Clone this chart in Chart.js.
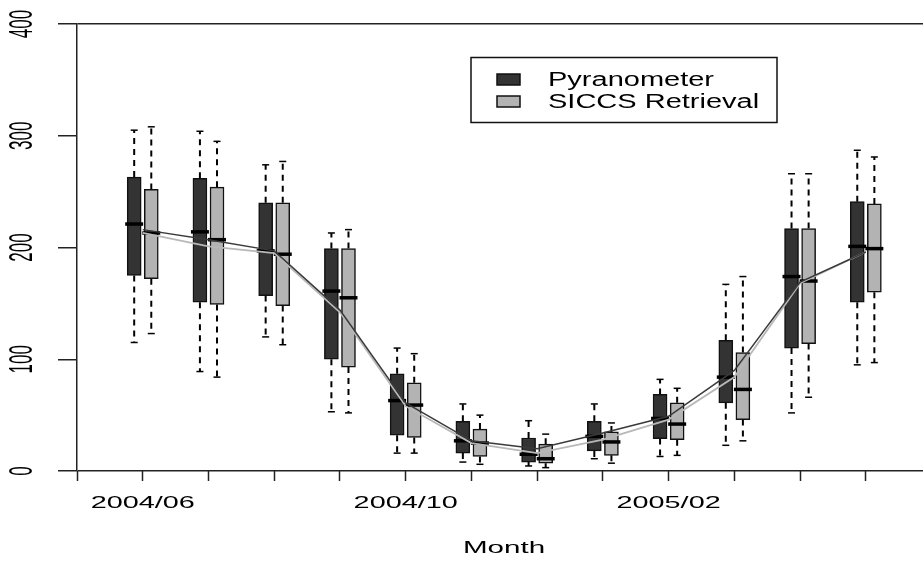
<!DOCTYPE html>
<html>
<head>
<meta charset="utf-8">
<script src="https://cdn.jsdelivr.net/npm/chart.js@4/dist/chart.umd.min.js"></script>
<style>
  body { margin: 0; background: #fff; }
  #wrap { width: 923px; height: 561px; }
</style>
</head>
<body>
<div id="wrap"><canvas id="boxes"></canvas></div>
<script>
// monthly irradiance
var months = ["2004/06", "2004/07", "2004/08", "2004/09", "2004/10", "2004/11", "2004/12", "2005/01", "2005/02", "2005/03", "2005/04", "2005/05"];
var yTicks = [0, 100, 200, 300, 400];

var pyrMin = [115, 89, 120, 53, 16, 8, 4.5, 11, 13, 23, 52, 95];
var pyrQ1 = [175, 151, 157, 100, 32, 16, 8, 18, 29, 61, 110, 151];
var pyrMedian = [221, 214, 197, 161, 63, 27, 15, 31, 47, 84, 174, 201];
var pyrQ3 = [263, 262, 240, 199, 87, 44.5, 29.5, 44.5, 68.5, 117, 217, 241];
var pyrMax = [305, 304, 274, 213, 110, 60, 45, 60, 82, 167, 266, 287];
var pyrMean = [216, 207, 197, 144, 61, 27, 20, 34, 49, 90, 169, 196];

var sicMin = [123, 84, 113, 52, 16, 6, 3, 7, 14, 27, 66, 97];
var sicQ1 = [172, 149, 148, 93, 30, 13, 7, 14, 28, 46, 114, 160];
var sicMedian = [213, 207, 194, 155, 59, 25, 11, 26, 42, 73, 170, 199];
var sicQ3 = [252, 254, 240, 199, 79, 37.5, 24, 35, 61, 106, 217, 239];
var sicMax = [308, 295, 277, 216, 105, 50, 33, 43, 74, 174, 266, 281];
var sicMean = [213, 201, 195, 142, 58, 25, 16, 28, 46, 84, 168, 196];

var OFFSET = 0.13;
var FONT = "'Liberation Sans', Arial, Helvetica, sans-serif";
var DARK = "#333333";
var LIGHT = "#b3b3b3";

function boxData(q1, q3, shift) {
	return months.map(function(m, i) { return { x: i + shift, y: [q1[i], q3[i]] }; });
}
function pointData(vals, shift) {
	return months.map(function(m, i) { return { x: i + shift, y: vals[i] }; });
}
// dashed whisker segments, broken apart by null points
function whiskerData(lo, q1, q3, hi, shift) {
	var pts = [];
	months.forEach(function(m, i) {
		var x = i + shift;
		pts.push({ x: x, y: q3[i] }, { x: x, y: hi[i] }, { x: x, y: null });
		pts.push({ x: x, y: q1[i] }, { x: x, y: lo[i] }, { x: x, y: null });
	});
	return pts;
}
function capData(lo, hi, shift) {
	var pts = [];
	months.forEach(function(m, i) {
		pts.push({ x: i + shift, y: hi[i] }, { x: i + shift, y: lo[i] });
	});
	return pts;
}

// text in the original is stretched sideways, so draw it with a scale
function stretchText(ctx, txt, x, y, size, sx, rotate) {
	ctx.save();
	ctx.translate(x, y);
	ctx.scale(sx, 1);
	if (rotate) ctx.rotate(-Math.PI / 2);
	ctx.font = size + "px " + FONT;
	ctx.fillStyle = "#000";
	ctx.textAlign = "center";
	ctx.textBaseline = "middle";
	ctx.fillText(txt, 0, 0);
	ctx.restore();
}

var labels = {
	id: "labels",
	afterDraw: function(chart) {
		var ctx = chart.ctx;
		var xs = chart.scales.x, ys = chart.scales.y;
		var area = chart.chartArea;

		yTicks.forEach(function(v) {
			stretchText(ctx, String(v), 23, ys.getPixelForValue(v), 17, 1.9, true);
		});
		months.forEach(function(m, i) {
			if (i % 4 === 0) stretchText(ctx, m, xs.getPixelForValue(i), 504, 16, 1.8, false);
		});
		stretchText(ctx, "Month", 504, 548, 17, 1.74, false);

		// legend box
		ctx.save();
		ctx.strokeStyle = "#111";
		ctx.lineWidth = 1.5;
		ctx.strokeRect(471, 57.5, 306, 65);
		ctx.fillStyle = DARK;
		ctx.fillRect(497, 74, 23, 11);
		ctx.strokeRect(497, 74, 23, 11);
		ctx.fillStyle = LIGHT;
		ctx.fillRect(497, 96, 23, 11);
		ctx.strokeRect(497, 96, 23, 11);
		ctx.restore();
		ctx.save();
		ctx.font = "20px " + FONT;
		ctx.textBaseline = "middle";
		ctx.fillStyle = "#000";
		ctx.translate(548, 0);
		ctx.scale(1.45, 1);
		ctx.fillText("Pyranometer", 0, 80);
		ctx.fillText("SICCS Retrieval", 0, 102);
		ctx.restore();
	}
};

function whiskerSet(lo, q1, q3, hi, shift) {
	return {
		type: "line",
		data: whiskerData(lo, q1, q3, hi, shift),
		borderColor: "#000",
		borderWidth: 2,
		borderDash: [6, 5],
		pointRadius: 0,
		spanGaps: false,
		tension: 0,
		order: 5
	};
}
function capSet(lo, hi, shift) {
	return {
		type: "scatter",
		data: capData(lo, hi, shift),
		pointStyle: "line",
		pointRadius: 3.5,
		borderColor: "#000",
		borderWidth: 1.5,
		order: 5
	};
}
function medianSet(vals, shift) {
	return {
		type: "scatter",
		data: pointData(vals, shift),
		pointStyle: "line",
		pointRadius: 9,
		borderColor: "#000",
		borderWidth: 3.5,
		order: 2
	};
}

var ctx = document.getElementById("boxes");
new Chart(ctx, {
	data: {
		datasets: [
		whiskerSet(pyrMin, pyrQ1, pyrQ3, pyrMax, -OFFSET),
		whiskerSet(sicMin, sicQ1, sicQ3, sicMax, OFFSET),
		capSet(pyrMin, pyrMax, -OFFSET),
		capSet(sicMin, sicMax, OFFSET),
		{
			type: "bar",
			label: "Pyranometer",
			data: boxData(pyrQ1, pyrQ3, -OFFSET),
			backgroundColor: DARK,
			borderColor: "#111",
			borderWidth: 1.5,
			borderSkipped: false,
			barThickness: 14,
			grouped: false,
			order: 3
		},
		{
			type: "bar",
			label: "SICCS Retrieval",
			data: boxData(sicQ1, sicQ3, OFFSET),
			backgroundColor: LIGHT,
			borderColor: "#111",
			borderWidth: 1.5,
			borderSkipped: false,
			barThickness: 14,
			grouped: false,
			order: 3
		},
		medianSet(pyrMedian, -OFFSET),
		medianSet(sicMedian, OFFSET),
		{
			type: "line",
			label: "mean siccs",
			data: pointData(sicMean, 0),
			borderColor: "#b8b8b8",
			borderWidth: 1.8,
			pointRadius: 0,
			tension: 0,
			order: 1
		},
		{
			type: "line",
			label: "mean pyr",
			data: pointData(pyrMean, 0),
			borderColor: "#3a3a3a",
			borderWidth: 1.5,
			pointRadius: 0,
			tension: 0,
			order: 0
		}],
	},
	options: {
		responsive: true,
		maintainAspectRatio: false,
		animation: false,
		layout: {
			autoPadding: false,
			padding: { left: 0, right: 0, top: 24, bottom: 0 }
		},
		plugins: {
			legend: { display: false },
			tooltip: { enabled: false }
		},
		scales: {
			x: {
				type: "linear",
				offset: false,
				min: -1,
				max: 11.87,
				afterBuildTicks: function(scale) {
					var t = [];
					for (var i = -1; i < months.length; i++) t.push({ value: i });
					scale.ticks = t;
				},
				afterFit: function(scale) { scale.height = 90; },
				ticks: { display: false },
				border: { display: false },
				grid: {
					offset: false,
					drawOnChartArea: false,
					drawTicks: true,
					tickLength: 10,
					tickColor: "#222",
					tickWidth: 1.5
				}
			},
			y: {
				min: 0,
				max: 400,
				afterBuildTicks: function(scale) {
					scale.ticks = yTicks.map(function(v) { return { value: v }; });
				},
				afterFit: function(scale) { scale.width = 77; },
				ticks: { display: false },
				border: { display: true, color: "#222", width: 1.5 },
				grid: {
					color: function(c) {
						return (c.tick && (c.tick.value === 0 || c.tick.value === 400)) ? "#222" : "rgba(0,0,0,0)";
					},
					lineWidth: 1.5,
					drawTicks: true,
					tickLength: 19,
					tickColor: "#222",
					tickWidth: 1.5
				}
			}
		}
	},
	plugins: [labels]
});
</script>
</body>
</html>
